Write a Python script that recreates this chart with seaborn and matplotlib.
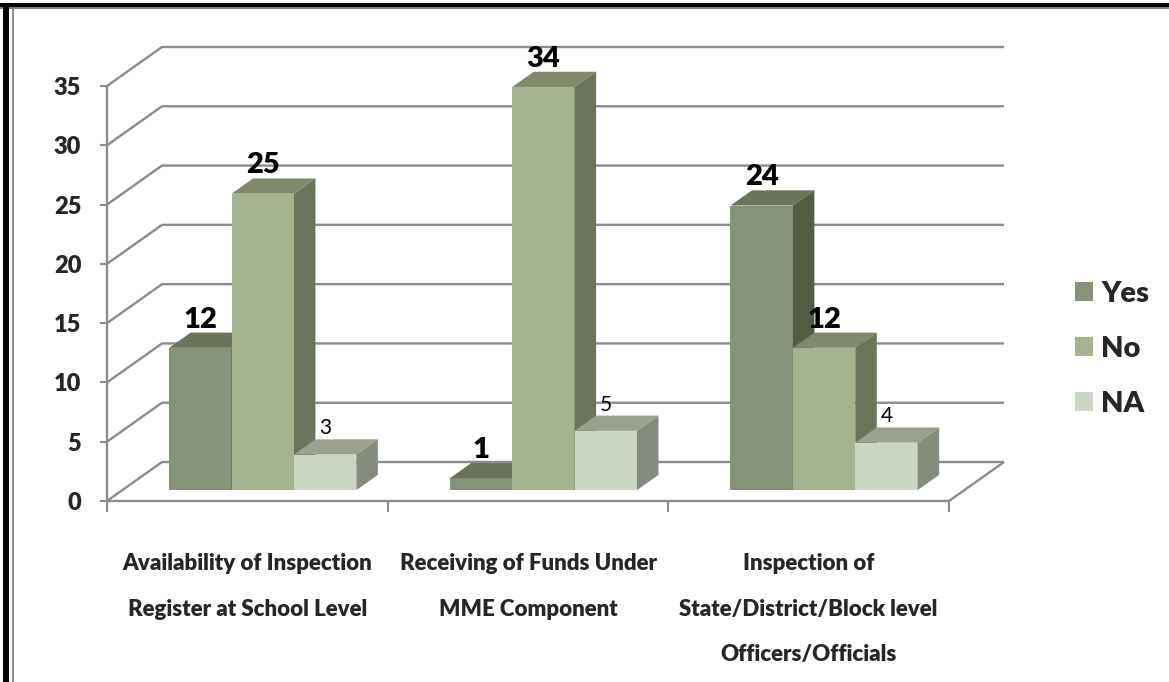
import numpy as np
import pandas as pd
import matplotlib
matplotlib.use("Agg")
import matplotlib.pyplot as plt
from matplotlib.patches import Polygon, Patch, Rectangle
import seaborn as sns

# ---- data -------------------------------------------------------------
categories = [
    "Availability of Inspection\nRegister at School Level",
    "Receiving of Funds Under\nMME Component",
    "Inspection of\nState/District/Block level\nOfficers/Officials",
]
responses = ["Yes", "No", "NA"]
yes_counts = [12, 1, 24]
no_counts = [25, 34, 12]
na_counts = [3, 5, 4]
y_ticks = [0, 5, 10, 15, 20, 25, 30, 35]

# ---- styling ----------------------------------------------------------
front_colors = {"Yes": "#879378", "No": "#A6B390", "NA": "#CBD5C3"}
top_colors = {"Yes": "#6A7459", "No": "#80896C", "NA": "#9AA28F"}
side_colors = {"Yes": "#535C45", "No": "#6B755C", "NA": "#858C7E"}
grid_color = "#8C8C8C"
HEAVY = "heavy"

W, H, DPI = 1169, 682, 100

sns.set_theme(style="white")
plt.rcParams["font.family"] = ["Lato", "DejaVu Sans"]

df = pd.DataFrame({
    "category": categories * len(responses),
    "response": np.repeat(responses, len(categories)),
    "count": yes_counts + no_counts + na_counts,
})
values_by_response = {"Yes": yes_counts, "No": no_counts, "NA": na_counts}

fig = plt.figure(figsize=(W / DPI, H / DPI), dpi=DPI)
fig.patch.set_facecolor("white")


def px_rect(x0, y_top, x1, y_bottom):
    """Axes rectangle from pixel coordinates measured from the top-left."""
    return [x0 / W, 1 - y_bottom / H, (x1 - x0) / W, (y_bottom - y_top) / H]


# front plane of the 3-D box (axis, floor edge, ticks)
plot_l, plot_t, plot_r, plot_b = 107, 86, 949, 501
ax = fig.add_axes(px_rect(plot_l, plot_t, plot_r, plot_b))
# bars stand a little way back inside the box
bar_dx, bar_dy = 15.4, 10.9
bx = fig.add_axes(px_rect(plot_l + bar_dx, plot_t - bar_dy,
                          plot_r + bar_dx, plot_b - bar_dy))
bx.patch.set_alpha(0)

px_per_x = (plot_r - plot_l) / 3
px_per_y = (plot_b - plot_t) / 35

# ---- walls and floor ---------------------------------------------------
wdx, wdy = 55 / px_per_x, 39 / px_per_y
grid_kw = dict(color=grid_color, lw=1.7, clip_on=False, solid_capstyle="butt")
for v in y_ticks:
    ax.plot([-0.5, -0.5 + wdx, 2.5 + wdx], [v, v + wdy, v + wdy], **grid_kw)
ax.plot([2.5, 2.5 + wdx], [0, wdy], **grid_kw)

ax.set_xlim(-0.5, 2.5)
ax.set_ylim(0, 35)
for s in ["top", "right"]:
    ax.spines[s].set_visible(False)
for s in ["left", "bottom"]:
    ax.spines[s].set_color(grid_color)
    ax.spines[s].set_linewidth(1.7)
ax.set_yticks(y_ticks)
ax.set_yticklabels([str(v) for v in y_ticks], fontsize=17, fontweight=HEAVY)
ax.tick_params(axis="y", direction="out", length=5, width=1.5,
               color=grid_color, pad=13.5, left=True)
ax.set_xticks([0, 1, 2])
ax.set_xticklabels(categories, fontsize=16, fontweight=HEAVY,
                   linespacing=2.44, va="top")
ax.set_xticks([-0.5, 0.5, 1.5, 2.5], minor=True)
ax.tick_params(axis="x", which="major", length=0, pad=37.5)
ax.tick_params(axis="x", which="minor", direction="out", length=8,
               width=1.5, color=grid_color, bottom=True)
ax.set_xlabel("")
ax.set_ylabel("")
ax.patch.set_alpha(0)

# ---- bars ----------------------------------------------------------------
sns.barplot(data=df, x="category", y="count", hue="response",
            order=categories, hue_order=responses, palette=front_colors,
            width=0.667, saturation=1, linewidth=0, legend=False, ax=bx)

ddx, ddy = 21.5 / px_per_x, 15.2 / px_per_y
bars = []
for resp, cont in zip(responses, bx.containers):
    for p, val in zip(cont.patches, values_by_response[resp]):
        bars.append((p.get_x(), p, resp, val))
bars.sort(key=lambda t: t[0])

for k, (_, p, resp, val) in enumerate(bars):
    z = 2 + 0.01 * k
    x0, w = p.get_x(), p.get_width()
    p.set_zorder(z)
    top = Polygon([(x0, val), (x0 + w, val), (x0 + w + ddx, val + ddy),
                   (x0 + ddx, val + ddy)], closed=True,
                  facecolor=top_colors[resp], edgecolor="none",
                  zorder=z, clip_on=False)
    side = Polygon([(x0 + w, 0), (x0 + w + ddx, ddy),
                    (x0 + w + ddx, val + ddy), (x0 + w, val)], closed=True,
                   facecolor=side_colors[resp], edgecolor="none",
                   zorder=z, clip_on=False)
    bx.add_patch(top)
    bx.add_patch(side)
    bold = resp != "NA"
    bx.annotate(str(val), xy=(x0 + w / 2, val),
                xytext=(0, (15.2 + 5) * 72 / DPI), textcoords="offset points",
                ha="center", va="baseline",
                fontsize=21 if bold else 15,
                fontweight=HEAVY if bold else "normal",
                color="black", zorder=10, annotation_clip=False)

bx.set_xlim(-0.5, 2.5)
bx.set_ylim(0, 35)
bx.axis("off")

# ---- legend --------------------------------------------------------------
handles = [Patch(facecolor=front_colors[r], edgecolor="none") for r in responses]
fig.legend(handles, responses, loc="center left",
           bbox_to_anchor=(1075 / W, 1 - 349 / H), frameon=False,
           prop={"size": 21, "weight": HEAVY},
           handlelength=0.62, handleheight=0.62, handletextpad=0.27,
           labelspacing=1.0, borderpad=0, borderaxespad=0)

# ---- frame ---------------------------------------------------------------
fig.add_artist(Rectangle((0, 1 - 7.4 / H), 1, 4.2 / H,
                         transform=fig.transFigure, color="black", lw=0))
fig.add_artist(Rectangle((0, 1 - 8.8 / H), 1, 1.4 / H,
                         transform=fig.transFigure, color="#7F7F7F", lw=0))
fig.add_artist(Rectangle((2.7 / W, 0), 6.3 / W, 1 - 3.2 / H,
                         transform=fig.transFigure, color="black", lw=0))
fig.add_artist(Rectangle((12 / W, 0), 2 / W, 1 - 8.8 / H,
                         transform=fig.transFigure, color="#8C8C8C", lw=0))

fig.savefig("out.png", dpi=DPI)
